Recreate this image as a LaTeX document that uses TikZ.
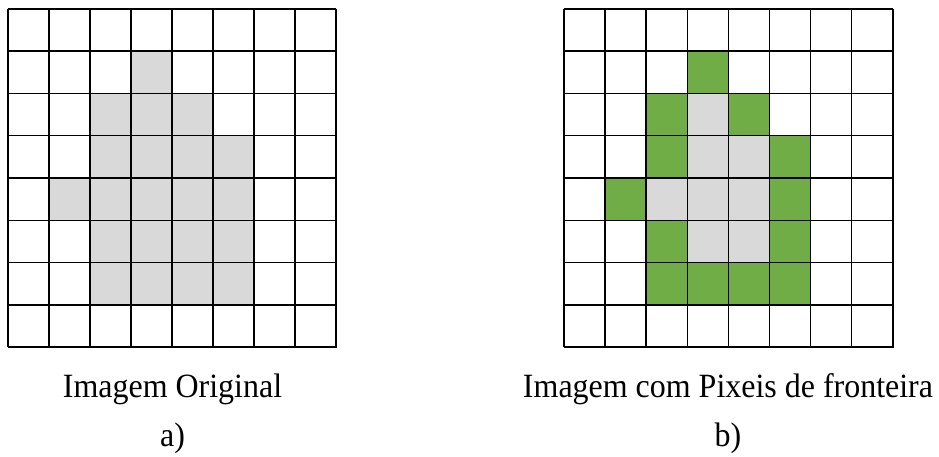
\documentclass[tikz,border=0pt]{standalone}
\usepackage{fontspec}
\setmainfont{Liberation Serif}
\definecolor{cellgray}{HTML}{D9D9D9}
\definecolor{cellgreen}{HTML}{70AD47}
\newcommand{\narrowtext}[1]{\scalebox{0.94}[1]{#1}}
\begin{document}
\begin{tikzpicture}[x=1pt,y=-1pt,
  gridline/.style={line width=1.5pt,black},
  outerline/.style={line width=2.4pt,black},
  caption/.style={font=\fontsize{34}{40}\selectfont,inner sep=0pt,anchor=base}]
\useasboundingbox (0,0) rectangle (939,457);
% ---------- left grid ----------
\begin{scope}[shift={(8,9)},x=41pt,y=-42.25pt]
  \foreach \c/\r in {3/1, 2/2,3/2,4/2, 2/3,3/3,4/3,5/3, 1/4,2/4,3/4,4/4,5/4, 2/5,3/5,4/5,5/5, 2/6,3/6,4/6,5/6}
    \fill[cellgray] (\c,\r) rectangle ++(1,1);
  \foreach \i in {0,...,7} {
    \draw[gridline] (\i,0) -- (\i,8);
    \draw[gridline] (0,\i) -- (8,\i);
  }
  \draw[outerline] (8,0) -- (8,8) -- (0,8);
\end{scope}
% ---------- right grid ----------
\begin{scope}[shift={(564,9)},x=41.1pt,y=-42.25pt]
  \foreach \c/\r in {3/2, 3/3,4/3, 2/4,3/4,4/4, 3/5,4/5}
    \fill[cellgray] (\c,\r) rectangle ++(1,1);
  \foreach \c/\r in {3/1, 2/2,4/2, 2/3,5/3, 1/4,5/4, 2/5,5/5, 2/6,3/6,4/6,5/6}
    \fill[cellgreen] (\c,\r) rectangle ++(1,1);
  \foreach \i in {0,...,7} {
    \draw[gridline] (\i,0) -- (\i,8);
    \draw[gridline] (0,\i) -- (8,\i);
  }
  \draw[outerline] (8,0) -- (8,8) -- (0,8);
\end{scope}
% ---------- captions ----------
\node[caption] (capA) at (172.5,397) {\narrowtext{Imagem Original}};
\node[caption] (labA) at (172.5,446) {\narrowtext{a)}};
\node[caption] (capB) at (728,397) {\narrowtext{Imagem com Pixeis de fronteira}};
\node[caption] (labB) at (728,446) {\narrowtext{b)}};
\end{tikzpicture}
\end{document}
